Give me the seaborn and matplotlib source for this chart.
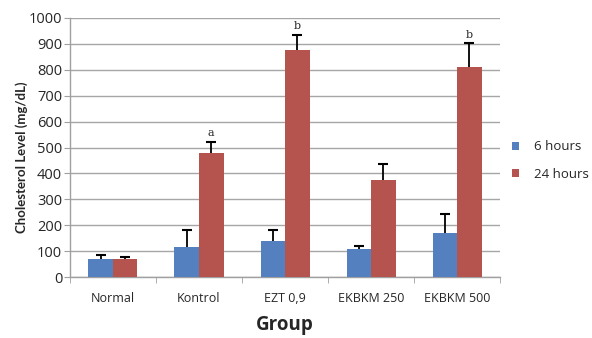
import numpy as np
import pandas as pd
import matplotlib
matplotlib.use('Agg')
import matplotlib.pyplot as plt
import seaborn as sns

# --- Data ---
groups = ['Normal', 'Kontrol', 'EZT 0,9', 'EKBKM 250', 'EKBKM 500']
times = ['6 hours', '24 hours']
mean_6h = [70, 118, 140, 107, 172]
mean_24h = [70, 480, 877, 373, 810]
err_6h = [15, 64, 42, 15, 73]
err_24h = [8, 42, 58, 65, 92]
letters = ['', 'a', 'b', '', 'b']

colors = ['#5580BF', '#B5534F']

df = pd.DataFrame({
    'Group': groups * 2,
    'Time': [times[0]] * len(groups) + [times[1]] * len(groups),
    'Level': mean_6h + mean_24h,
    'Err': err_6h + err_24h,
})

sns.set_style('white')
plt.rcParams['font.family'] = ['Open Sans', 'DejaVu Sans']

fig = plt.figure(figsize=(5.92, 3.38), dpi=100)
ax = fig.add_axes([0.118, 0.180, 0.727, 0.767])

sns.barplot(data=df, x='Group', y='Level', hue='Time', order=groups,
            hue_order=times, palette=colors, width=0.57, saturation=1,
            errorbar=None, linewidth=0, ax=ax, zorder=3)

# one-sided error bars: a stem from the bar top and a cap at the end only
for cont, t in zip(ax.containers, times):
    sub = df[df['Time'] == t].set_index('Group').loc[groups]
    xs = np.array([p.get_x() + p.get_width() / 2 for p in cont.patches])
    tops = sub['Level'].values + sub['Err'].values
    ax.vlines(xs, sub['Level'].values, tops, color='black', linewidth=1.3, zorder=4)
    ax.plot(xs, tops, linestyle='none', marker='_', markersize=7,
            markeredgewidth=1.5, color='black', zorder=4)

# significance letters above the 24 h bars
for p, m, e, lab in zip(ax.containers[1].patches, mean_24h, err_24h, letters):
    if lab:
        ax.text(p.get_x() + p.get_width() / 2, m + e + 14, lab,
                ha='center', va='bottom', family='DejaVu Serif', fontsize=8)

ax.set_ylim(0, 1000)
ax.set_xlim(-0.5, 4.5)
ax.set_yticks(np.arange(0, 1001, 100))
ax.yaxis.grid(True, color='#a6a6a6', linewidth=1.0, zorder=0)
ax.set_axisbelow(True)

ax.set_xticks(range(len(groups)))
ax.set_xticklabels(groups, fontsize=9)
ax.set_xticks(np.arange(-0.5, 4.6, 1), minor=True)
ax.tick_params(axis='x', which='major', length=0, pad=11)
ax.tick_params(axis='x', which='minor', length=4, color='#a0a0a0',
               direction='out', bottom=True)
ax.tick_params(axis='y', length=4, color='#a0a0a0', labelsize=10.5,
               direction='out', left=True, pad=1.5)

for s in ['top', 'right']:
    ax.spines[s].set_visible(False)
for s in ['left', 'bottom']:
    ax.spines[s].set_color('#a0a0a0')
    ax.spines[s].set_linewidth(1.0)

ax.set_ylabel('Cholesterol Level (mg/dL)', fontsize=9.5, fontweight='bold',
              family=['Liberation Sans Narrow', 'Lato', 'DejaVu Sans'])
ax.yaxis.set_label_coords(-0.098, 0.463)
ax.set_xlabel('Group', fontsize=13.5, fontweight='bold', labelpad=7)

leg = ax.legend(loc='center left', bbox_to_anchor=(1.0, 0.45), frameon=False,
                fontsize=9.5, handlelength=0.55, handleheight=0.55,
                labelspacing=1.1, handletextpad=1.1)

plt.savefig('out.png', dpi=100)
